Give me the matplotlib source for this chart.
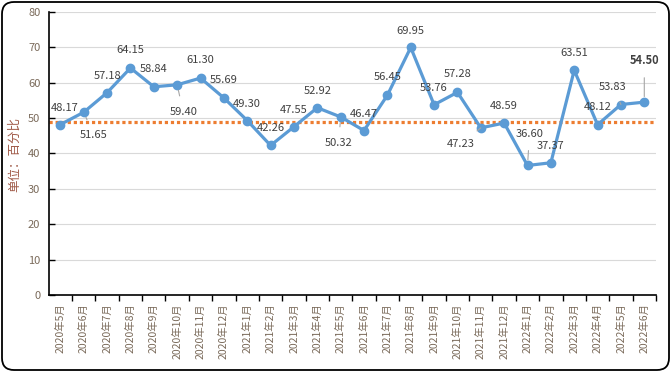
import matplotlib
matplotlib.use("Agg")
import matplotlib.pyplot as plt
from matplotlib.patches import FancyBboxPatch

plt.rcParams['font.family'] = ['Noto Sans CJK SC', 'DejaVu Sans']

# ── 数据 ──
months = ['2020年5月', '2020年6月', '2020年7月', '2020年8月', '2020年9月', '2020年10月',
          '2020年11月', '2020年12月', '2021年1月', '2021年2月', '2021年3月', '2021年4月',
          '2021年5月', '2021年6月', '2021年7月', '2021年8月', '2021年9月', '2021年10月',
          '2021年11月', '2021年12月', '2022年1月', '2022年2月', '2022年3月', '2022年4月',
          '2022年5月', '2022年6月']
values = [48.17, 51.65, 57.18, 64.15, 58.84, 59.40, 61.30, 55.69, 49.30, 42.26,
          47.55, 52.92, 50.32, 46.47, 56.45, 69.95, 53.76, 57.28, 47.23, 48.59,
          36.60, 37.37, 63.51, 48.12, 53.83, 54.50]
threshold = 49.0
y_ticks = [0, 10, 20, 30, 40, 50, 60, 70, 80]

# 标签偏移（像素），是否有引线
offsets = [(4, 17), (10, -23), (0, 17), (0, 18), (0, 18), (6, -27), (0, 18), (0, 18),
           (0, 17), (0, 17), (0, 17), (0, 17), (-2, -26), (0, 17), (0, 18), (0, 16),
           (0, 17), (0, 18), (-20, -16), (0, 17), (2, 31), (0, 17), (0, 17), (0, 18),
           (-8, 18), (0, 42)]
leaders = {1, 5, 12, 18, 20, 24, 25}

BLUE = '#5B9BD5'
ORANGE = '#ED7D31'
TICK_C = '#7a6a5a'

fig = plt.figure(figsize=(6.71, 3.72), dpi=100)
ax = fig.add_axes([0.0726, 0.207, 0.905, 0.761])

x = list(range(len(months)))
ax.plot([-0.5, len(months) - 0.5], [threshold, threshold], color=ORANGE, lw=2.3,
        linestyle=(0, (1, 0.9)), zorder=2)
ax.plot(x, values, color=BLUE, lw=2.3, marker='o', markersize=6, zorder=3)

for i, (v, (dx, dy)) in enumerate(zip(values, offsets)):
    kw = dict(textcoords='offset pixels', xytext=(dx, dy), ha='center', va='center',
              fontsize=8, color='#404040', zorder=4)
    if i == len(values) - 1:
        kw['fontweight'] = 'bold'
    if i in leaders:
        kw['arrowprops'] = dict(arrowstyle='-', color='#a6a6a6', lw=0.8,
                                shrinkA=6, shrinkB=4)
    ax.annotate(f'{v:.2f}', xy=(i, v), **kw)

ax.set_xlim(-0.5, len(months) - 0.5)
ax.set_ylim(0, 80)
ax.set_yticks(y_ticks)
ax.yaxis.grid(True, color='#d9d9d9', lw=0.8)
ax.set_axisbelow(True)

ax.set_xticks([i + 0.5 for i in range(len(months))])
ax.set_xticklabels([])
ax.set_xticks(x, minor=True)
ax.set_xticklabels(months, minor=True, rotation=90, fontsize=7.5, color=TICK_C)
ax.tick_params(axis='x', which='major', length=4, width=1, color='black', direction='out')
ax.tick_params(axis='x', which='minor', length=0, pad=6)
ax.tick_params(axis='y', length=4, width=1, labelsize=8, labelcolor=TICK_C,
               direction='in', pad=6)

for s in ['top', 'right']:
    ax.spines[s].set_visible(False)
for s in ['left', 'bottom']:
    ax.spines[s].set_color('black')
    ax.spines[s].set_linewidth(1.2)

fig.text(0.022, 0.585, '单位：百分比', rotation=90, ha='center', va='center',
         fontsize=9, color='#a05a48')

border = FancyBboxPatch((0.02, 0.02), 6.67, 3.68, boxstyle='round,pad=0,rounding_size=0.12',
                        transform=fig.dpi_scale_trans, fill=False, edgecolor='black', lw=1.3)
fig.patches.append(border)

fig.savefig('out.png', dpi=100)
